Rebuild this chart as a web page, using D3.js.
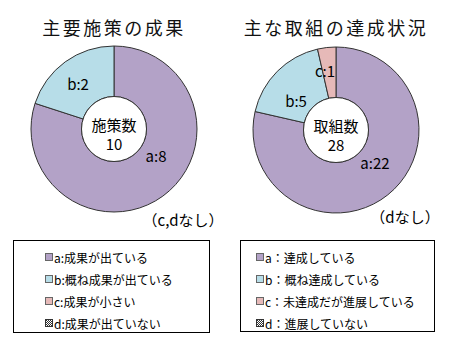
<!DOCTYPE html>
<html>
<head>
<meta charset="utf-8">
<script src="https://cdn.jsdelivr.net/npm/d3@7"></script>
<style>
  html, body { margin: 0; padding: 0; background: #fff; }
  svg { display: block; font-family: "Noto Sans CJK JP", sans-serif; }
</style>
</head>
<body>
<svg id="chart" width="453" height="348"></svg>
<script>
// Category keys and colours shared by both donuts
const keys = ["a", "b", "c", "d"];
const colors = ["#b3a2c7", "#b7dde8", "#e6b9b8", "#ffffff"];

// Left donut: results of key measures
const leftTitle = "主要施策の成果";
const leftValues = [8, 2, 0, 0];
const leftCenter = ["施策数", "10"];
const leftNote = "（c,dなし）";
const leftLegend = ["a:成果が出ている", "b:概ね成果が出ている", "c:成果が小さい", "d:成果が出ていない"];

// Right donut: progress of main initiatives
const rightTitle = "主な取組の達成状況";
const rightValues = [22, 5, 1, 0];
const rightCenter = ["取組数", "28"];
const rightNote = "（dなし）";
const rightLegend = ["a：達成している", "b：概ね達成している", "c：未達成だが進展している", "d：進展していない"];

const svg = d3.select("#chart");

// cross-hatch pattern for the "d" swatch
const defs = svg.append("defs");
const pat = defs.append("pattern").attr("id", "hatch")
  .attr("width", 2).attr("height", 2).attr("patternUnits", "userSpaceOnUse");
pat.append("rect").attr("width", 2).attr("height", 2).attr("fill", "#fff");
pat.append("rect").attr("width", 1).attr("height", 1).attr("fill", "#333");
pat.append("rect").attr("x", 1).attr("y", 1).attr("width", 1).attr("height", 1).attr("fill", "#333");

const outerR = 83, innerR = 32.5;
const color = d3.scaleOrdinal().domain(keys).range(colors);
const pie = d3.pie().sort(null).value(d => d.v);
const arc = d3.arc().innerRadius(innerR).outerRadius(outerR);

function donut(cx, cy, title, values, center, titleSpacing, labelPos) {
  const g = svg.append("g").attr("transform", `translate(${cx},${cy})`);
  const data = keys.map((k, i) => ({ k, v: values[i] }));
  const arcs = pie(data).filter(d => d.data.v > 0);

  g.selectAll("path.slice").data(arcs).join("path")
    .attr("class", "slice")
    .attr("d", arc)
    .attr("fill", d => color(d.data.k))
    .attr("stroke", "#333")
    .attr("stroke-width", 1);

  g.append("circle").attr("r", innerR)
    .attr("fill", "#fff").attr("stroke", "#333").attr("stroke-width", 1);

  // slice labels "key:value"
  g.selectAll("text.lbl").data(arcs).join("text")
    .attr("class", "lbl")
    .attr("x", d => labelPos[d.data.k][0])
    .attr("y", d => labelPos[d.data.k][1])
    .attr("text-anchor", "middle")
    .attr("dominant-baseline", "central")
    .attr("font-size", 15)
    .attr("fill", "#000")
    .text(d => `${d.data.k}:${d.data.v}`);

  g.append("text").attr("x", 0).attr("y", -5)
    .attr("text-anchor", "middle").attr("dominant-baseline", "central")
    .attr("font-size", 15).text(center[0]);
  g.append("text").attr("x", 0).attr("y", 14)
    .attr("text-anchor", "middle").attr("dominant-baseline", "central")
    .attr("font-size", 15).text(center[1]);

  svg.append("text").attr("x", cx).attr("y", 27)
    .attr("text-anchor", "middle").attr("dominant-baseline", "central")
    .attr("font-size", 18).attr("letter-spacing", titleSpacing)
    .attr("fill", "#111")
    .text(title);

  return g;
}

donut(114, 129, leftTitle, leftValues, leftCenter, 2.5,
  { a: [42, 26], b: [-36, -46] });
donut(336, 130, rightTitle, rightValues, rightCenter, 2.5,
  { a: [39, 32], b: [-40, -30], c: [-11, -60] });

// "none" notes under each donut
svg.append("text").attr("x", 183).attr("y", 219)
  .attr("text-anchor", "middle").attr("dominant-baseline", "central")
  .attr("font-size", 15).text(leftNote);
svg.append("text").attr("x", 405).attr("y", 216)
  .attr("text-anchor", "middle").attr("dominant-baseline", "central")
  .attr("font-size", 15).text(rightNote);

function legend(x, y, w, h, labels, swatchX) {
  svg.append("rect").attr("x", x + 0.5).attr("y", y + 0.5)
    .attr("width", w).attr("height", h)
    .attr("fill", "#fff").attr("stroke", "#000").attr("stroke-width", 1);
  const rowY = d3.scalePoint().domain(keys).range([y + 17, y + 83]);
  const rows = svg.selectAll(null).data(keys).join("g")
    .attr("transform", k => `translate(${swatchX},${rowY(k)})`);
  rows.append("rect").attr("x", 0.5).attr("y", -3.5).attr("width", 7).attr("height", 7)
    .attr("fill", k => k === "d" ? "url(#hatch)" : color(k))
    .attr("stroke", k => k === "d" ? "#333" : "#666").attr("stroke-width", 1);
  rows.append("text").attr("x", 9).attr("y", 0)
    .attr("dominant-baseline", "central").attr("font-size", 12)
    .text((k, i) => labels[i]);
}

legend(13, 240, 196, 92, leftLegend, 45);
legend(240, 240, 194, 91, rightLegend, 256);
</script>
</body>
</html>
